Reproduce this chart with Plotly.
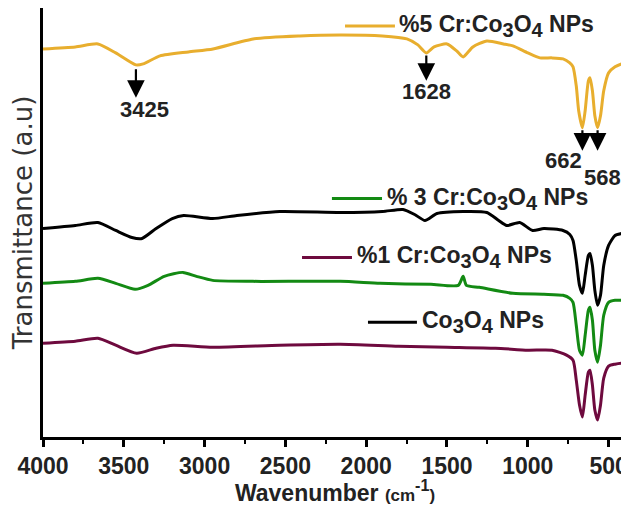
import plotly.graph_objects as go

# ---- data (wavenumber cm^-1, transmittance a.u.) ----
wn_5 = [4000, 3800, 3660, 3550, 3425, 3380, 3276, 3100, 2948, 2700, 2410, 2162, 1900, 1748, 1680, 1628,
        1580, 1500, 1440, 1400, 1340, 1253, 1150, 1092, 1000, 925, 850, 782, 740, 720, 700, 685, 662,
        645, 625, 615, 600, 585, 568, 550, 530, 500, 460, 420, 390]
t_5 = [389, 391, 394, 385, 373, 374, 382, 386, 389, 399, 402, 403, 402, 399, 393, 385,
       391, 394, 387, 381, 391, 397, 394, 392, 385, 380, 380, 379, 375, 371, 352, 327, 310,
       327, 357, 360, 347, 322, 310, 322, 347, 365, 371, 374, 375]

wn_3 = [4000, 3800, 3660, 3550, 3430, 3350, 3250, 3134, 3050, 2950, 2700, 2160, 1914, 1600, 1430, 1400,
        1380, 1300, 1092, 900, 782, 740, 720, 700, 680, 662, 645, 625, 615, 600, 585, 568, 550, 530,
        500, 460, 420, 390]
t_3 = [154, 156, 159, 154, 148, 152, 161, 165, 161, 157, 156, 156, 154, 153, 152, 161,
       152, 150, 144, 143, 142, 139, 135, 112, 87, 82, 102, 127, 130, 117, 87, 75, 92, 122,
       135, 137, 137, 137]

wn_1 = [4000, 3800, 3660, 3550, 3420, 3300, 3195, 2950, 2535, 2160, 1800, 1500, 1200, 1000, 850, 760,
        720, 700, 680, 662, 645, 625, 615, 600, 585, 568, 550, 530, 500, 460, 420, 390]
t_1 = [94, 96, 99, 92, 84, 89, 92, 90, 92, 93, 91, 90, 89, 87, 87, 82,
       77, 57, 32, 20, 42, 65, 67, 52, 27, 17, 32, 59, 71, 73, 74, 74]

wn_0 = [4000, 3800, 3660, 3550, 3450, 3387, 3300, 3200, 3130, 2950, 2800, 2535, 2160, 1900, 1772, 1700,
        1636, 1562, 1400, 1253, 1180, 1130, 1050, 970, 900, 782, 740, 720, 700, 680, 662, 645, 625,
        615, 600, 585, 568, 550, 530, 500, 460, 420, 390]
t_0 = [209, 212, 215, 207, 200, 199, 209, 219, 222, 219, 222, 226, 225, 226, 228, 223,
       217, 224, 226, 225, 217, 212, 215, 207, 209, 207, 203, 197, 177, 152, 144, 162, 182,
       184, 172, 147, 132, 142, 172, 192, 202, 204, 205]

SUB = '<sub><span style="font-size:20px">%s</span></sub>'
CO3O4 = "Co" + SUB % "3" + "O" + SUB % "4"
series_names = ["%5 Cr:" + CO3O4 + " NPs", "% 3 Cr:" + CO3O4 + " NPs",
                "%1 Cr:" + CO3O4 + " NPs", CO3O4 + " NPs"]
colors = ["#E8AE2E", "#138A13", "#6E0A3E", "#000000"]

peak_labels = ["3425", "1628", "662", "568"]
peak_wn = [3425, 1628, 662, 568]

tick_vals = [4000, 3500, 3000, 2500, 2000, 1500, 1000, 500]

fig = go.Figure()
for wn, t, c in [(wn_0, t_0, colors[3]), (wn_1, t_1, colors[2]),
                 (wn_3, t_3, colors[1]), (wn_5, t_5, colors[0])]:
    fig.add_trace(go.Scatter(x=wn, y=t, mode="lines",
                             line=dict(color=c, width=3, shape="spline", smoothing=0.6)))

# legend-like labels placed next to curves: (line x0, line x1, y, text x) in data coords
leg_pos = [
    (2131, 1822, 412, 1809),
    (2212, 1902, 239, 1884),
    (2397, 2088, 180, 2069),
    (1989, 1686, 115, 1667),
]
for i, (x0, x1, y, tx) in enumerate(leg_pos):
    fig.add_shape(type="line", x0=x0, x1=x1, y0=y, y1=y, xref="x", yref="y",
                  line=dict(color=colors[i], width=3))
    fig.add_annotation(x=tx, y=y, xref="x", yref="y", text="<b>%s</b>" % series_names[i],
                       showarrow=False, xanchor="left", yanchor="middle",
                       font=dict(family="Liberation Sans", size=23, color="#222"))

# peak arrows: (tail y, head y, label x, label y)
arrow_spec = [
    (370, 340, 3370, 328),
    (384, 357, 1628, 346),
    (309, 287, 782, 277),
    (309, 287, 535, 260),
]
for (ty, hy, lx, ly), w, lab in zip(arrow_spec, peak_wn, peak_labels):
    fig.add_annotation(x=w, y=hy, ax=w, ay=ty, xref="x", yref="y", axref="x", ayref="y",
                       text="", showarrow=True, arrowhead=2, arrowsize=1.6, arrowwidth=2.2,
                       arrowcolor="black")
    fig.add_annotation(x=lx, y=ly, xref="x", yref="y", text="<b>%s</b>" % lab, showarrow=False,
                       xanchor="center", yanchor="middle",
                       font=dict(family="Liberation Sans", size=22, color="#222"))

# the page body adds an 8px margin, so the figure is sized to fill the rest of the window
fig.update_layout(
    width=621, height=498,
    margin=dict(l=35, r=2, t=0, b=69),
    plot_bgcolor="white", paper_bgcolor="white",
    showlegend=False,
    font=dict(family="Liberation Sans", color="#222"),
)
fig.update_xaxes(
    range=[4000, 386], tickvals=tick_vals, ticktext=["<b>%d</b>" % v for v in tick_vals],
    ticks="outside", ticklen=7, tickwidth=2.5, tickcolor="black",
    minor=dict(dtick=250, tick0=4000, ticks="outside", ticklen=4, tickwidth=2, tickcolor="black"),
    showline=True, linecolor="black", linewidth=2.5, mirror=True,
    showgrid=False, zeroline=False, automargin=False,
    tickfont=dict(size=23, color="#222"),
    title=dict(text='<b>Wavenumber <span style="font-size:17px">(cm</span><sup>-1</sup><span style="font-size:17px">)</span></b>',
               font=dict(size=23, color="#222"), standoff=3),
)
fig.update_yaxes(
    range=[0, 430], showticklabels=False, ticks="",
    showline=True, linecolor="black", linewidth=2.5, mirror=True,
    showgrid=False, zeroline=False, automargin=False,
    title=dict(text="Transmittance (a.u)", font=dict(family="DejaVu Sans", size=26, color="#333"),
               standoff=6),
)

fig.write_html("out.html")
